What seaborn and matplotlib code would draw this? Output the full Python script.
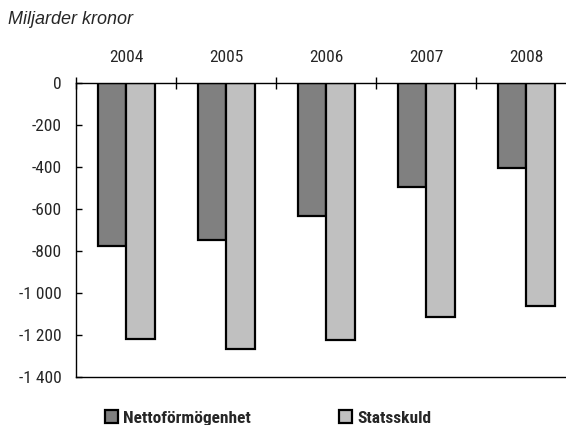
import matplotlib
matplotlib.use("Agg")
import matplotlib.pyplot as plt
from matplotlib import font_manager
from matplotlib.ticker import FixedLocator, FuncFormatter
from matplotlib.patches import Patch
import seaborn as sns
import pandas as pd

# Data (billions of SEK)
years = ["2004", "2005", "2006", "2007", "2008"]
netto = [-775, -748, -635, -497, -406]
statsskuld = [-1217, -1265, -1222, -1115, -1063]
series_names = ["Nettoförmögenhet", "Statsskuld"]
colors = ["#808080", "#C0C0C0"]
yticks = [0, -200, -400, -600, -800, -1000, -1200, -1400]

df = pd.DataFrame({
    "year": years * 2,
    "value": netto + statsskuld,
    "series": [series_names[0]] * len(years) + [series_names[1]] * len(years),
})

sns.set_theme(style="white")

available = {f.name for f in font_manager.fontManager.ttflist}
narrow = next((n for n in ["Liberation Sans Narrow", "Roboto Condensed",
                           "Open Sans Condensed", "DejaVu Sans Condensed",
                           "Roboto", "Liberation Sans"] if n in available),
              "DejaVu Sans")
plt.rcParams["font.family"] = [narrow, "DejaVu Sans"]

fig = plt.figure(figsize=(5.66, 4.25), dpi=100)
ax = fig.add_axes([76 / 566, 1 - 377 / 425, 500 / 566, (377 - 82.7) / 425])

sns.barplot(data=df, x="year", y="value", hue="series", order=years,
            hue_order=series_names, palette=colors, width=0.57, gap=0,
            edgecolor="black", linewidth=1.6, saturation=1, ax=ax,
            legend=False)

ax.set_xlim(-0.5, len(years) - 0.5)
ax.set_ylim(-1400, 0)
ax.set_xlabel("")
ax.set_ylabel("")

# Spines: top spine acts as the zero line
for side in ["top", "left", "bottom"]:
    ax.spines[side].set_visible(True)
    ax.spines[side].set_color("black")
    ax.spines[side].set_linewidth(1.0)
ax.spines["right"].set_visible(False)

# Year labels on top, separator ticks between categories
ax.xaxis.tick_top()
ax.xaxis.set_label_position("top")
ax.set_xticks(range(len(years)))
ax.set_xticklabels(years)
ax.xaxis.set_minor_locator(FixedLocator([i - 0.5 for i in range(len(years) + 1)]))
ax.tick_params(axis="x", which="major", length=0, pad=13, labelsize=12.5,
               top=True, bottom=False, labeltop=True, labelbottom=False)
ax.tick_params(axis="x", which="minor", length=8, width=1.0, direction="inout",
               top=True, bottom=False, color="black")

# Y axis
ax.set_yticks(yticks)
ax.yaxis.set_major_formatter(FuncFormatter(
    lambda v, _: f"{v:,.0f}".replace(",", " ").replace("\u2212", "-")))
ax.tick_params(axis="y", which="major", length=4, width=1.0, direction="in",
               left=True, labelsize=12.5, pad=10, color="black")
ax.grid(False)

fig.text(8 / 566, 1 - 19 / 425, "Miljarder kronor", fontsize=13,
         style="italic", family=["Liberation Sans", "DejaVu Sans"],
         va="center", ha="left")

handles = [Patch(facecolor=c, edgecolor="black", linewidth=1.6) for c in colors]
fig.legend(handles, series_names, loc="center left",
           bbox_to_anchor=(89 / 566, 1 - 418 / 425), ncol=2, frameon=False,
           handlelength=0.75, handleheight=0.75, handletextpad=0.3,
           columnspacing=5.1, prop={"weight": "bold", "size": 12.5})

fig.savefig("out.png", dpi=100)
